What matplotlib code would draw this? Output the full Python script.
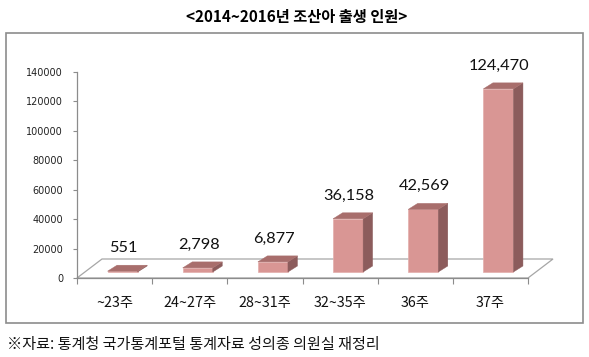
import matplotlib
matplotlib.use('Agg')
import matplotlib.pyplot as plt
from matplotlib.patches import Polygon, Rectangle
import numpy as np

categories = ['~23주', '24~27주', '28~31주', '32~35주', '36주', '37주']
births = [551, 2798, 6877, 36158, 42569, 124470]
y_ticks = [0, 20000, 40000, 60000, 80000, 100000, 120000, 140000]
title = '<2014~2016년 조산아 출생 인원>'
source = '※자료: 통계청 국가통계포털 통계자료 성의종 의원실 재정리'

KR = ['Noto Sans CJK KR', 'DejaVu Sans']

W, H = 589, 357
fig = plt.figure(figsize=(W / 100, H / 100), dpi=100)
ax = fig.add_axes([77 / W, 1 - 278 / H, (528 - 77) / W, (278 - 72) / H])
ax.set_xlim(0, len(categories))
ax.set_ylim(0, 140000)
ax.patch.set_alpha(0)

for s in ['top', 'right']:
    ax.spines[s].set_visible(False)
for s in ['left', 'bottom']:
    ax.spines[s].set_color('#8c8c8c')
    ax.spines[s].set_linewidth(0.9)

ax.set_yticks(y_ticks)
ax.set_yticklabels([str(v) for v in y_ticks], fontsize=7, family='DejaVu Sans', color='#222222')
ax.tick_params(axis='y', direction='out', length=3, width=0.8, color='#8c8c8c', pad=7)

ax.set_xticks(np.arange(len(categories) + 1))
ax.set_xticklabels([])
ax.tick_params(axis='x', which='major', direction='out', length=4, width=0.8, color='#8c8c8c')
centers = np.arange(len(categories)) + 0.5
ax.set_xticks(centers, minor=True)
ax.set_xticklabels(categories, minor=True, fontsize=10.3, family=KR, color='#111111')
ax.tick_params(axis='x', which='minor', length=0, pad=13)


def P(x, y, dx=0.0, dy=0.0):
    d = ax.transData.transform((x, y)) + np.array([dx, dy])
    return ax.transData.inverted().transform(d)


# floor
n = len(categories)
floor = Polygon([P(0, 0), P(n, 0), P(n, 0, 25, 19), P(0, 0, 25, 19)], closed=True,
                facecolor='white', edgecolor='#a6a6a6', lw=0.9, zorder=1, clip_on=False)
ax.add_patch(floor)

front_c = '#D99694'
side_c = '#8C5C5C'
top_c = '#A86E6C'
bw = 0.4
fx, fy = 8, 6        # front face offset (px)
bx, by = 17.5, 12    # back face offset (px)
for c, v in zip(centers, births):
    l, r = c - bw / 2, c + bw / 2
    front = Polygon([P(l, 0, fx, fy), P(r, 0, fx, fy), P(r, v, fx, fy), P(l, v, fx, fy)],
                    closed=True, facecolor=front_c, edgecolor='#e3aeac', lw=0.5, zorder=3, clip_on=False)
    side = Polygon([P(r, 0, fx, fy), P(r, 0, bx, by), P(r, v, bx, by), P(r, v, fx, fy)],
                   closed=True, facecolor=side_c, edgecolor=side_c, lw=0.3, zorder=3, clip_on=False)
    top = Polygon([P(l, v, fx, fy), P(r, v, fx, fy), P(r, v, bx, by), P(l, v, bx, by)],
                  closed=True, facecolor=top_c, edgecolor=top_c, lw=0.3, zorder=3, clip_on=False)
    for p in (front, side, top):
        ax.add_patch(p)
    tx, ty = P(c, v, 9, 25)
    ax.text(tx, ty, f'{v:,}', ha='center', va='baseline', fontsize=11.8, family='Lato',
            color='#111111', zorder=5, clip_on=False)

# outer box
box = Rectangle((6 / W, 1 - 323 / H), (583 - 6) / W, (323 - 33) / H, transform=fig.transFigure,
                fill=False, edgecolor='#8c8c8c', lw=1.2)
fig.add_artist(box)

fig.text(297 / W, 1 - 17 / H, title, ha='center', va='center', fontsize=11, fontweight='bold',
         family=KR, color='#000000')
fig.text(7 / W, 1 - 344 / H, source, ha='left', va='center', fontsize=10.9, family=KR, color='#111111')

fig.savefig('out.png', dpi=100)
